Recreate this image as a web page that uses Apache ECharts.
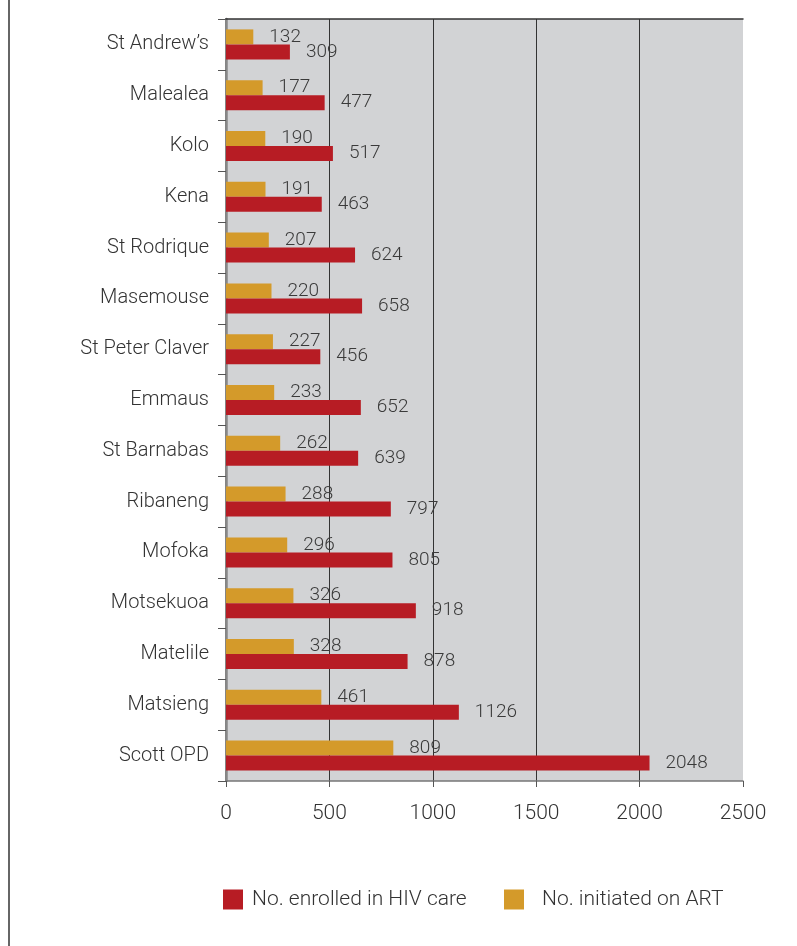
<!DOCTYPE html>
<html><head><meta charset="utf-8">
<script src="https://cdn.jsdelivr.net/npm/echarts@6/dist/echarts.min.js"></script>
<style>html,body{margin:0;padding:0;background:#fff}#c{width:797px;height:946px}</style>
</head><body><div id="c"></div>
<script>
const categories = ["St Andrew\u2019s","Malealea","Kolo","Kena","St Rodrique","Masemouse","St Peter Claver","Emmaus","St Barnabas","Ribaneng","Mofoka","Motsekuoa","Matelile","Matsieng","Scott OPD"];
const initiatedART = [132,177,190,191,207,220,227,233,262,288,296,326,328,461,809];
const enrolledHIV = [309,477,517,463,624,658,456,652,639,797,805,918,878,1126,2048];
const xTicks = [0,500,1000,1500,2000,2500];
const seriesNames = ['No. enrolled in HIV care','No. initiated on ART'];
const FONT = 'Roboto';
const chart = echarts.init(document.getElementById('c'), null, {renderer:'canvas'});
const lbl = {show:true, position:'right', distance:16, color:'#3a3a3a', fontFamily:FONT, fontSize:19, fontWeight:300};
const legendText = (pl) => ({fontFamily:FONT, fontSize:21, fontWeight:300, color:'#333', padding:[0,0,0,pl]});
chart.setOption({
  animation:false,
  textStyle:{fontFamily:FONT},
  grid:{left:226, right:54, top:19, bottom:165, show:true, backgroundColor:'#d2d3d5', borderWidth:0},
  legend:[
    {left:223, top:889, padding:0, itemWidth:20, itemHeight:20, icon:'rect', data:[seriesNames[0]], textStyle:legendText(4)},
    {left:504, top:889, padding:0, itemWidth:20, itemHeight:20, icon:'rect', data:[seriesNames[1]], textStyle:legendText(13)}
  ],
  graphic:[{type:'line', shape:{x1:9,y1:0,x2:9,y2:946}, style:{stroke:'#333', lineWidth:1.5}}],
  xAxis:[{type:'value', min:xTicks[0], max:xTicks[xTicks.length-1], interval:500,
    axisLine:{show:true, lineStyle:{color:'#777', width:1.5}},
    axisTick:{show:true, length:6, lineStyle:{color:'#555'}},
    axisLabel:{color:'#333', fontSize:21, fontWeight:300, margin:22, formatter:(v)=>String(v)},
    splitLine:{show:true, showMinLine:false, showMaxLine:false, lineStyle:{color:'#333', width:1}}},
    {type:'value', position:'top', min:0, max:2500, axisLine:{show:true, lineStyle:{color:'#333', width:1.5}},
     axisTick:{show:false}, axisLabel:{show:false}, splitLine:{show:false}}],
  yAxis:[{type:'category', data:categories, inverse:true,
    axisLine:{show:true, lineStyle:{color:'#777', width:2}},
    axisTick:{show:true, length:8, lineStyle:{color:'#555'}},
    axisLabel:{color:'#333', fontSize:20, fontWeight:300, margin:17}},
    {type:'category', data:categories, position:'right', inverse:true,
     axisLine:{show:true, lineStyle:{color:'#888', width:2.5}}, axisTick:{show:false}, axisLabel:{show:false}}],
  series:[
    {name:seriesNames[1], type:'bar', data:initiatedART, barWidth:15, barGap:'0%', itemStyle:{color:'#d49a2a'}, label:lbl},
    {name:seriesNames[0], type:'bar', data:enrolledHIV, barWidth:15, barGap:'0%', itemStyle:{color:'#b71c24'}, label:lbl}
  ]
});
</script></body></html>
